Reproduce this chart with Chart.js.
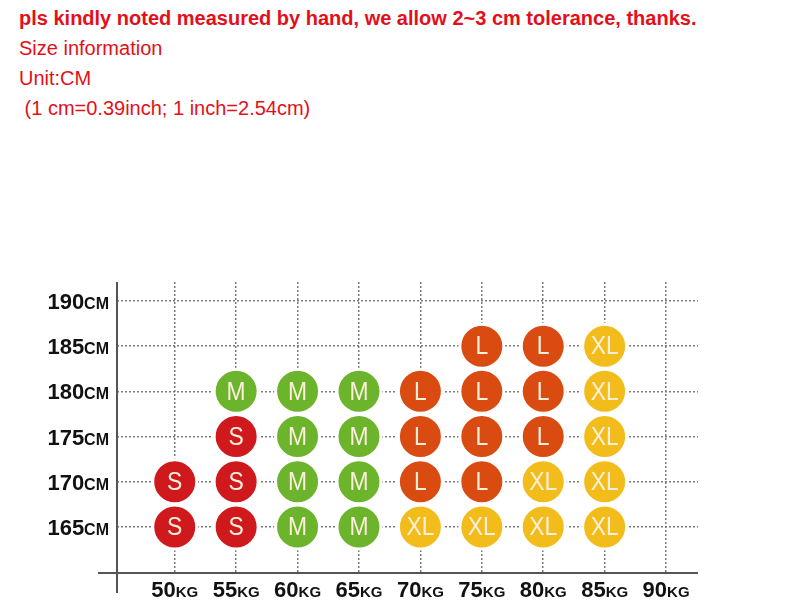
<!DOCTYPE html>
<html>
<head>
<meta charset="utf-8">
<script src="https://cdn.jsdelivr.net/npm/chart.js@4"></script>
<style>
  body { margin: 0; background: #fff; width: 800px; height: 611px; overflow: hidden; position: relative;
         font-family: "Liberation Sans", Arial, sans-serif; }
  .note { position: absolute; left: 19px; top: 3px; color: #e3101a; }
  .note div { height: 30px; line-height: 30px; font-size: 20px; white-space: nowrap; }
  .note .bold { font-weight: bold; font-size: 20px; }
  #wrap { position: absolute; left: 0; top: 250px; width: 800px; height: 361px; }
</style>
</head>
<body>
<div class="note">
  <div class="bold">pls kindly noted measured by hand, we allow 2~3 cm tolerance, thanks.</div>
  <div>Size information</div>
  <div>Unit:CM</div>
  <div>&nbsp;(1 cm=0.39inch; 1 inch=2.54cm)</div>
</div>
<div id="wrap"><canvas id="sizeChart"></canvas></div>
<script>
// poids (kg) et tailles (cm) du tableau
const weights = [50, 55, 60, 65, 70, 75, 80, 85, 90];
const heights = [165, 170, 175, 180, 185, 190];

// taille conseillée pour chaque poids, une ligne par hauteur ('' = vide)
const row165 = ['S', 'S', 'M', 'M', 'XL', 'XL', 'XL', 'XL', ''];
const row170 = ['S', 'S', 'M', 'M', 'L', 'L', 'XL', 'XL', ''];
const row175 = ['', 'S', 'M', 'M', 'L', 'L', 'L', 'XL', ''];
const row180 = ['', 'M', 'M', 'M', 'L', 'L', 'L', 'XL', ''];
const row185 = ['', '', '', '', '', 'L', 'L', 'XL', ''];
const row190 = ['', '', '', '', '', '', '', '', ''];

const sizeNames = ['S', 'M', 'L', 'XL'];
const sizeColors = { S: '#cf191d', M: '#6bb42b', L: '#d94b11', XL: '#f2bc1b' };

const rows = [row165, row170, row175, row180, row185, row190];

const datasets = sizeNames.map(size => {
  const pts = [];
  rows.forEach((row, r) => {
    row.forEach((s, c) => {
      if (s === size) pts.push({ x: weights[c], y: heights[r] });
    });
  });
  return {
    label: size,
    data: pts,
    backgroundColor: sizeColors[size],
    borderColor: '#ffffff',
    borderWidth: 3,
    pointRadius: 22,
    pointHoverRadius: 22
  };
});

const fontFam = '"Liberation Sans", Arial, sans-serif';

// lettres dans les ronds (un peu resserrées)
const letterPlugin = {
  id: 'letters',
  afterDatasetsDraw(chart) {
    const ctx = chart.ctx;
    chart.data.datasets.forEach((ds, i) => {
      chart.getDatasetMeta(i).data.forEach(pt => {
        ctx.save();
        ctx.translate(pt.x, pt.y + 1);
        ctx.scale(0.88, 1);
        ctx.fillStyle = '#fdefdc';
        ctx.textAlign = 'center';
        ctx.textBaseline = 'middle';
        ctx.font = '26px ' + fontFam;
        ctx.fillText(ds.label, 0, 0);
        ctx.restore();
      });
    });
  }
};

// axes + étiquettes "190CM" / "50KG" avec unité plus petite
const axisPlugin = {
  id: 'unitAxes',
  afterDraw(chart) {
    const { ctx, chartArea, scales } = chart;
    ctx.save();
    ctx.strokeStyle = '#555555';
    ctx.lineWidth = 2;
    ctx.beginPath();
    ctx.moveTo(chartArea.left - 19, chartArea.bottom);
    ctx.lineTo(chartArea.right, chartArea.bottom);
    ctx.moveTo(chartArea.left, chartArea.top);
    ctx.lineTo(chartArea.left, chartArea.bottom + 20);
    ctx.stroke();

    ctx.fillStyle = '#111';
    ctx.textBaseline = 'alphabetic';
    ctx.textAlign = 'left';
    heights.forEach(h => {
      const y = scales.y.getPixelForValue(h) + 8;
      ctx.font = 'bold 16px ' + fontFam;
      const uw = ctx.measureText('CM').width;
      ctx.font = 'bold 22px ' + fontFam;
      const nw = ctx.measureText(String(h)).width;
      const x0 = chartArea.left - 8 - uw - nw;
      ctx.fillText(String(h), x0, y);
      ctx.font = 'bold 16px ' + fontFam;
      ctx.fillText('CM', x0 + nw, y);
    });
    weights.forEach(w => {
      const px = scales.x.getPixelForValue(w);
      const y = chartArea.bottom + 24;
      ctx.font = 'bold 15px ' + fontFam;
      const uw = ctx.measureText('KG').width;
      ctx.font = 'bold 22px ' + fontFam;
      const nw = ctx.measureText(String(w)).width;
      const x0 = px - (uw + nw) / 2;
      ctx.fillText(String(w), x0, y);
      ctx.font = 'bold 15px ' + fontFam;
      ctx.fillText('KG', x0 + nw, y);
    });
    ctx.restore();
  }
};

const gridStyle = { color: '#7a7a7a', lineWidth: 1.5, drawTicks: false };

new Chart(document.getElementById('sizeChart'), {
  type: 'scatter',
  data: { datasets: datasets },
  options: {
    responsive: true,
    maintainAspectRatio: false,
    animation: false,
    events: [],
    layout: { padding: { left: 117, right: 102, top: 32, bottom: 38 } },
    plugins: { legend: { display: false }, tooltip: { enabled: false } },
    scales: {
      x: {
        type: 'linear',
        min: 45.3,
        max: 92.6,
        afterBuildTicks: s => { s.ticks = weights.map(v => ({ value: v })); },
        ticks: { display: false },
        grid: gridStyle,
        border: { display: false, dash: [2, 2] }
      },
      y: {
        type: 'linear',
        min: 159.9,
        max: 192.1,
        afterBuildTicks: s => { s.ticks = heights.map(v => ({ value: v })); },
        ticks: { display: false },
        grid: gridStyle,
        border: { display: false, dash: [2, 2] }
      }
    }
  },
  plugins: [letterPlugin, axisPlugin]
});
</script>
</body>
</html>
